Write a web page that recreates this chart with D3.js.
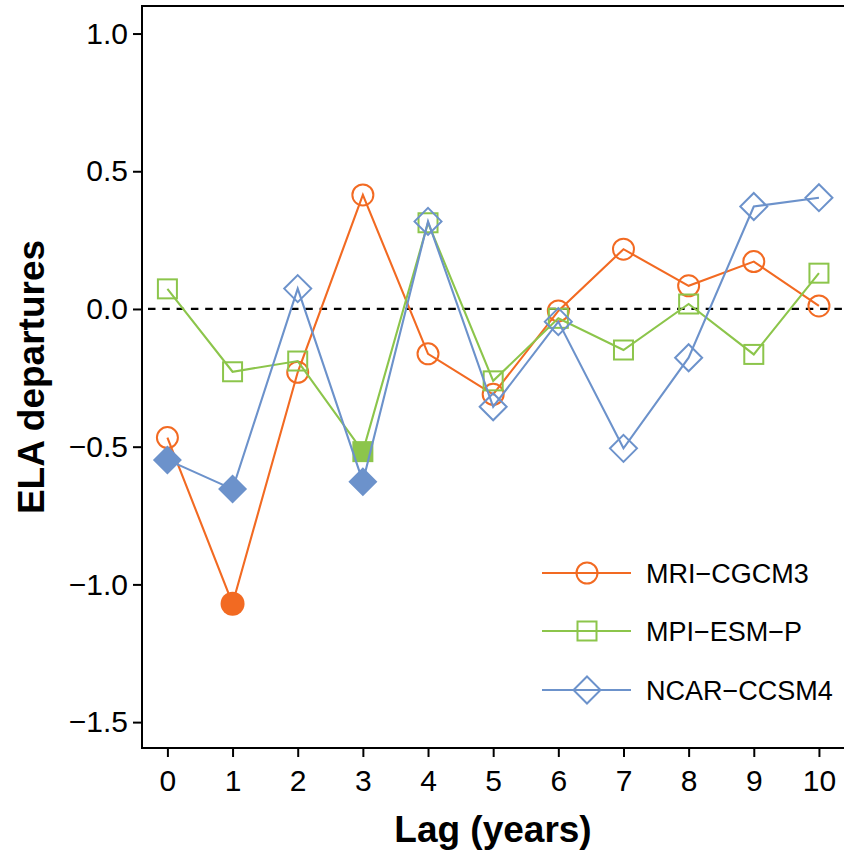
<!DOCTYPE html>
<html>
<head>
<meta charset="utf-8">
<script src="https://cdn.jsdelivr.net/npm/d3@7"></script>
<style>
  html, body { margin: 0; padding: 0; background: #fff; }
  svg { display: block; font-family: "Liberation Sans", Arial, Helvetica, sans-serif; }
</style>
</head>
<body>
<svg id="chart" width="844" height="856"></svg>
<script>
// Lag in years after the event
const lags = [0, 1, 2, 3, 4, 5, 6, 7, 8, 9, 10];

// ELA departures for each model
const mri  = [-0.467, -1.070, -0.230, 0.414, -0.163, -0.310, -0.007, 0.217, 0.084, 0.172, 0.011];
const mpi  = [0.073, -0.228, -0.189, -0.518, 0.313, -0.261, -0.034, -0.149, 0.018, -0.165, 0.130];
const ncar = [-0.548, -0.654, 0.074, -0.627, 0.318, -0.355, -0.046, -0.506, -0.177, 0.372, 0.404];

// Lags where the departure is significant (drawn with filled symbols)
const mriFilled  = [1];
const mpiFilled  = [3];
const ncarFilled = [0, 1, 3];

const seriesNames = ["MRI\u2212CGCM3", "MPI\u2212ESM\u2212P", "NCAR\u2212CCSM4"];
const yTicks = [-1.5, -1.0, -0.5, 0.0, 0.5, 1.0];
const xTicks = lags;

const colors = ["#F26A22", "#8CC54B", "#6C92CB"];
const shapes = ["circle", "square", "diamond"];

const svg = d3.select("#chart");
const plotLeft = 142, plotRight = 845, plotTop = 6, plotBottom = 748;

const x = d3.scaleLinear().domain([-0.39, 10.4]).range([plotLeft, plotRight]);
const y = d3.scaleLinear().domain([-1.594, 1.1]).range([plotBottom, plotTop]);

// zero reference line
svg.append("line")
  .attr("x1", plotLeft).attr("x2", plotRight)
  .attr("y1", y(0)).attr("y2", y(0))
  .attr("stroke", "#000").attr("stroke-width", 2.2)
  .attr("stroke-dasharray", "7.5,6.8")
  .attr("stroke-dashoffset", 8.3);

function drawSymbol(g, shape, cx, cy, color, filled) {
  if (shape === "circle") {
    g.append("circle").attr("cx", cx).attr("cy", cy)
      .attr("r", filled ? 12 : 10.5)
      .attr("fill", filled ? color : "none")
      .attr("stroke", filled ? "none" : color).attr("stroke-width", 2);
  } else if (shape === "square") {
    const h = filled ? 10.5 : 9.5;
    g.append("rect").attr("x", cx - h).attr("y", cy - h)
      .attr("width", 2 * h).attr("height", 2 * h)
      .attr("fill", filled ? color : "none")
      .attr("stroke", filled ? "none" : color).attr("stroke-width", 2);
  } else {
    const h = filled ? 14.5 : 13.5;
    g.append("path")
      .attr("d", `M${cx},${cy - h}L${cx + h},${cy}L${cx},${cy + h}L${cx - h},${cy}Z`)
      .attr("fill", filled ? color : "none")
      .attr("stroke", filled ? "none" : color).attr("stroke-width", 2);
  }
}

const allSeries = [
  { values: mri, filled: mriFilled },
  { values: mpi, filled: mpiFilled },
  { values: ncar, filled: ncarFilled }
];

const line = d3.line().x(d => x(d[0])).y(d => y(d[1]));

allSeries.forEach((s, i) => {
  const g = svg.append("g");
  const pts = lags.map((l, j) => [l, s.values[j]]);
  g.append("path").datum(pts)
    .attr("d", line)
    .attr("fill", "none")
    .attr("stroke", colors[i])
    .attr("stroke-width", 2.1)
    .attr("stroke-linejoin", "miter");
  pts.forEach((p, j) => {
    drawSymbol(g, shapes[i], x(p[0]), y(p[1]), colors[i], s.filled.includes(lags[j]));
  });
});

// plot frame
svg.append("rect")
  .attr("x", plotLeft).attr("y", plotTop)
  .attr("width", plotRight - plotLeft).attr("height", plotBottom - plotTop)
  .attr("fill", "none").attr("stroke", "#000").attr("stroke-width", 2);

// axes
const fmt = d => d3.format(".1f")(d).replace("-", "\u2212");
const yAxis = svg.append("g").attr("transform", `translate(${plotLeft},0)`)
  .call(d3.axisLeft(y).tickValues(yTicks).tickFormat(fmt).tickSize(9).tickSizeOuter(0).tickPadding(5));
const xAxis = svg.append("g").attr("transform", `translate(0,${plotBottom})`)
  .call(d3.axisBottom(x).tickValues(xTicks).tickFormat(d3.format("d")).tickSize(9).tickSizeOuter(0).tickPadding(13));

[yAxis, xAxis].forEach(a => {
  a.select(".domain").remove();
  a.selectAll(".tick line").attr("stroke", "#000").attr("stroke-width", 2);
  a.selectAll(".tick text").attr("fill", "#000")
    .style("font-family", '"Liberation Sans", Arial, sans-serif')
    .style("font-size", "30px");
});

// axis titles
svg.append("text")
  .attr("x", (plotLeft + 844) / 2).attr("y", 842)
  .attr("text-anchor", "middle")
  .style("font-size", "37px").style("font-weight", "bold")
  .text("Lag (years)");

svg.append("text")
  .attr("transform", `translate(44,${(plotTop + plotBottom) / 2}) rotate(-90)`)
  .attr("text-anchor", "middle")
  .style("font-size", "37px").style("font-weight", "bold")
  .text("ELA departures");

// legend
const legend = svg.append("g");
const legendRows = [573, 631, 690];
seriesNames.forEach((name, i) => {
  const ly = legendRows[i];
  legend.append("line")
    .attr("x1", 542).attr("x2", 631).attr("y1", ly).attr("y2", ly)
    .attr("stroke", colors[i]).attr("stroke-width", 2);
  drawSymbol(legend, shapes[i], 587, ly, colors[i], false);
  legend.append("text")
    .attr("x", 646).attr("y", ly).attr("dy", "0.36em")
    .style("font-size", "27px")
    .text(name);
});
</script>
</body>
</html>
